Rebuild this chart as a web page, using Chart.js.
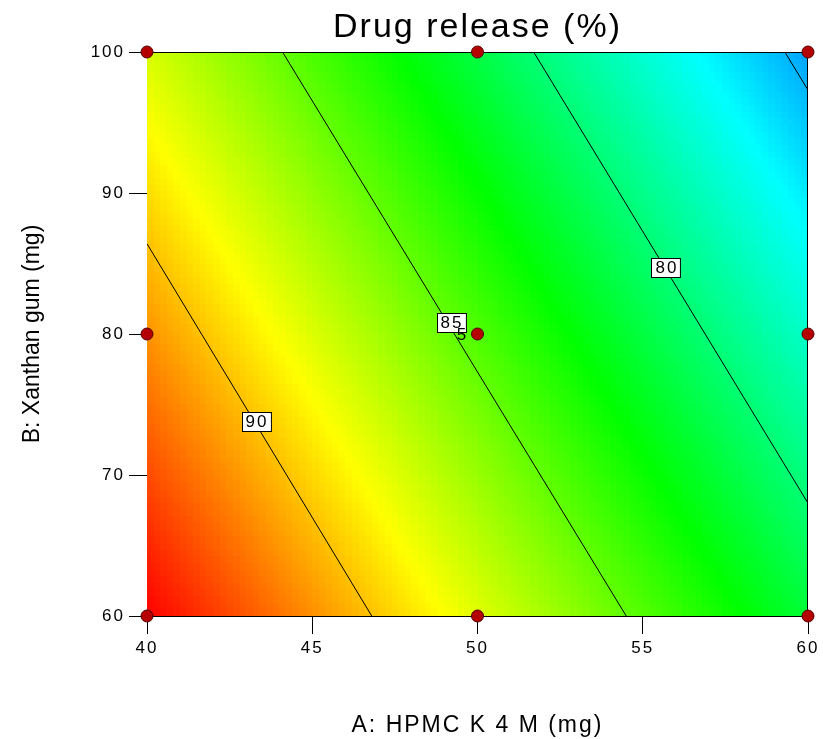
<!DOCTYPE html>
<html>
<head>
<meta charset="utf-8">
<title>Drug release (%)</title>
<script src="https://cdn.jsdelivr.net/npm/chart.js@4.4.0/dist/chart.umd.min.js"></script>
<style>
    html, body { margin: 0; padding: 0; background: #fff; }
    #wrap { width: 823px; height: 739px; }
</style>
</head>
<body>
<div id="wrap"><canvas id="contourChart"></canvas></div>
<script>
// Factor levels (mg), also used as tick labels
const hpmcLevels = [40, 45, 50, 55, 60];
const xanthanLevels = [60, 70, 80, 90, 100];

// Drug release (%): one row per xanthan level, one column per HPMC level
const releaseGrid = [
    [94.5, 91.2, 87.9, 84.6, 81.4],   // B = 60
    [92.8, 89.5, 86.2, 82.9, 79.7],   // B = 70
    [91.1, 87.8, 84.5, 81.2, 78.0],   // B = 80
    [89.4, 86.1, 82.8, 79.5, 76.3],   // B = 90
    [87.7, 84.4, 81.1, 77.8, 74.6]    // B = 100
];

// Contour lines: level, where each one enters and leaves the plot
const contourLevels = [90, 85, 80, 75];
const contourFrom = [[40, 86.4], [44.1, 100], [51.7, 100], [59.3, 100]];
const contourTo = [[46.8, 60], [54.5, 60], [60, 68.0], [60, 97.3]];

// Contour labels
const labelText = ['90', '85', '80'];
const labelAt = [[43.3, 73.8], [49.2, 80.85], [55.7, 84.75]];

// Design points
const designA = [40, 40, 40, 50, 50, 50, 60, 60, 60];
const designB = [60, 80, 100, 60, 80, 100, 60, 80, 100];
const centerRuns = 5;

Chart.defaults.font.family = '"Liberation Sans", Arial, sans-serif';
Chart.defaults.color = '#000';

// Bilinear lookup in the response grid
function releaseAt(a, b) {
    let i = 0;
    while (i < hpmcLevels.length - 2 && a > hpmcLevels[i + 1]) i++;
    let j = 0;
    while (j < xanthanLevels.length - 2 && b > xanthanLevels[j + 1]) j++;
    const ta = (a - hpmcLevels[i]) / (hpmcLevels[i + 1] - hpmcLevels[i]);
    const tb = (b - xanthanLevels[j]) / (xanthanLevels[j + 1] - xanthanLevels[j]);
    const g = releaseGrid;
    return (1 - ta) * (1 - tb) * g[j][i] + ta * (1 - tb) * g[j][i + 1]
        + (1 - ta) * tb * g[j + 1][i] + ta * tb * g[j + 1][i + 1];
}

const allValues = releaseGrid.flat();
const vMax = Math.max(...allValues);
const vMin = Math.min(...allValues);

function releaseColour(v) {
    // red (high) -> yellow -> green -> cyan -> light blue (low)
    const hue = 202 * (vMax - v) / (vMax - vMin);
    return 'hsl(' + hue.toFixed(1) + ', 100%, 50%)';
}

const contourPlugin = {
    id: 'contourPlugin',
    beforeDraw(chart) {
        // the original export is stretched sideways, so widen horizontal text a bit
        chart.ctx.letterSpacing = '2px';
    },
    beforeDatasetsDraw(chart) {
        const { ctx, chartArea, scales: { x, y } } = chart;
        const nx = 100, ny = 85;
        ctx.save();
        for (let i = 0; i < nx; i++) {
            const a0 = x.min + (x.max - x.min) * i / nx;
            const a1 = x.min + (x.max - x.min) * (i + 1) / nx;
            const px0 = Math.round(x.getPixelForValue(a0));
            const px1 = Math.round(x.getPixelForValue(a1));
            for (let j = 0; j < ny; j++) {
                const b0 = y.min + (y.max - y.min) * j / ny;
                const b1 = y.min + (y.max - y.min) * (j + 1) / ny;
                const py0 = Math.round(y.getPixelForValue(b0));
                const py1 = Math.round(y.getPixelForValue(b1));
                ctx.fillStyle = releaseColour(releaseAt((a0 + a1) / 2, (b0 + b1) / 2));
                ctx.fillRect(px0, py1, px1 - px0, py0 - py1);
            }
        }
        // top and right edges of the frame
        const top = Math.round(chartArea.top) + 0.5;
        const right = Math.round(chartArea.right) - 0.5;
        ctx.strokeStyle = '#000';
        ctx.lineWidth = 1;
        ctx.beginPath();
        ctx.moveTo(chartArea.left, top);
        ctx.lineTo(right, top);
        ctx.lineTo(right, chartArea.bottom);
        ctx.stroke();
        ctx.restore();
    },
    afterDatasetsDraw(chart) {
        const { ctx, scales: { x, y } } = chart;
        ctx.save();
        ctx.font = '17px "Liberation Sans", Arial, sans-serif';
        ctx.textAlign = 'center';
        ctx.textBaseline = 'middle';
        labelText.forEach((txt, k) => {
            const px = x.getPixelForValue(labelAt[k][0]);
            const py = y.getPixelForValue(labelAt[k][1]);
            const w = ctx.measureText(txt).width + 6;
            const h = 19;
            const bx = Math.round(px - w / 2) + 0.5;
            const by = Math.round(py - h / 2) + 0.5;
            ctx.fillStyle = '#fff';
            ctx.fillRect(bx, by, w, h);
            ctx.strokeStyle = '#000';
            ctx.lineWidth = 1;
            ctx.strokeRect(bx, by, w, h);
            ctx.fillStyle = '#000';
            ctx.fillText(txt, px + 1, py + 1);
        });
        // replicate count at the centre point
        const cx = x.getPixelForValue(50);
        const cy = y.getPixelForValue(80);
        ctx.fillText(String(centerRuns), cx - 15, cy + 1);
        ctx.restore();
        chart.ctx.letterSpacing = '0px';
    }
};

const lineDatasets = contourLevels.map((lvl, k) => ({
    type: 'line',
    label: String(lvl),
    data: [
        { x: contourFrom[k][0], y: contourFrom[k][1] },
        { x: contourTo[k][0], y: contourTo[k][1] }
    ],
    borderColor: '#000',
    borderWidth: 1,
    pointRadius: 0,
    fill: false,
    order: 1
}));

const pointDataset = {
    type: 'scatter',
    label: 'Design points',
    data: designA.map((a, k) => ({ x: a, y: designB[k] })),
    backgroundColor: '#b40000',
    borderColor: '#500000',
    borderWidth: 1,
    pointRadius: 6,
    clip: false,
    order: 0
};

new Chart(document.getElementById('contourChart'), {
    type: 'scatter',
    data: { datasets: [pointDataset, ...lineDatasets] },
    options: {
        responsive: true,
        maintainAspectRatio: false,
        animation: false,
        events: [],
        layout: { padding: { left: 0, right: 15, top: 0, bottom: 0 } },
        plugins: {
            legend: { display: false },
            tooltip: { enabled: false },
            title: {
                display: true,
                fullSize: false,
                text: 'Drug release (%)',
                color: '#000',
                font: { size: 34, weight: 'normal' },
                padding: { top: 7, bottom: 4.2 }
            }
        },
        scales: {
            x: {
                type: 'linear',
                position: 'bottom',
                min: 40,
                max: 60,
                afterBuildTicks(s) { s.ticks = hpmcLevels.map(v => ({ value: v })); },
                afterFit(s) { s.height = 123; },
                ticks: { font: { size: 17 }, color: '#000', padding: 4, maxRotation: 0 },
                grid: { drawOnChartArea: false, drawTicks: true, tickLength: 18, color: '#000', lineWidth: 1 },
                border: { display: true, color: '#000', width: 1 },
                title: {
                    display: true,
                    text: 'A: HPMC K 4 M (mg)',
                    color: '#000',
                    font: { size: 23 },
                    padding: { top: 0, bottom: 0 }
                }
            },
            y: {
                type: 'linear',
                position: 'left',
                min: 60,
                max: 100,
                weight: 0,
                afterBuildTicks(s) { s.ticks = xanthanLevels.map(v => ({ value: v })); },
                afterFit(s) { s.width = 87; },
                ticks: { font: { size: 17 }, color: '#000', padding: 4 },
                grid: { drawOnChartArea: false, drawTicks: true, tickLength: 18, color: '#000', lineWidth: 1 },
                border: { display: true, color: '#000', width: 1 },
                title: { display: false }
            },
            yTitle: {
                type: 'linear',
                position: 'left',
                weight: 10,
                afterFit(s) { s.width = 60; },
                ticks: { display: false },
                grid: { display: false, z: 1 },
                border: { display: false },
                title: {
                    display: true,
                    text: 'B: Xanthan gum (mg)',
                    color: '#000',
                    font: { size: 23 },
                    padding: { top: 19, bottom: 0 }
                }
            }
        }
    },
    plugins: [contourPlugin]
});
</script>
</body>
</html>
